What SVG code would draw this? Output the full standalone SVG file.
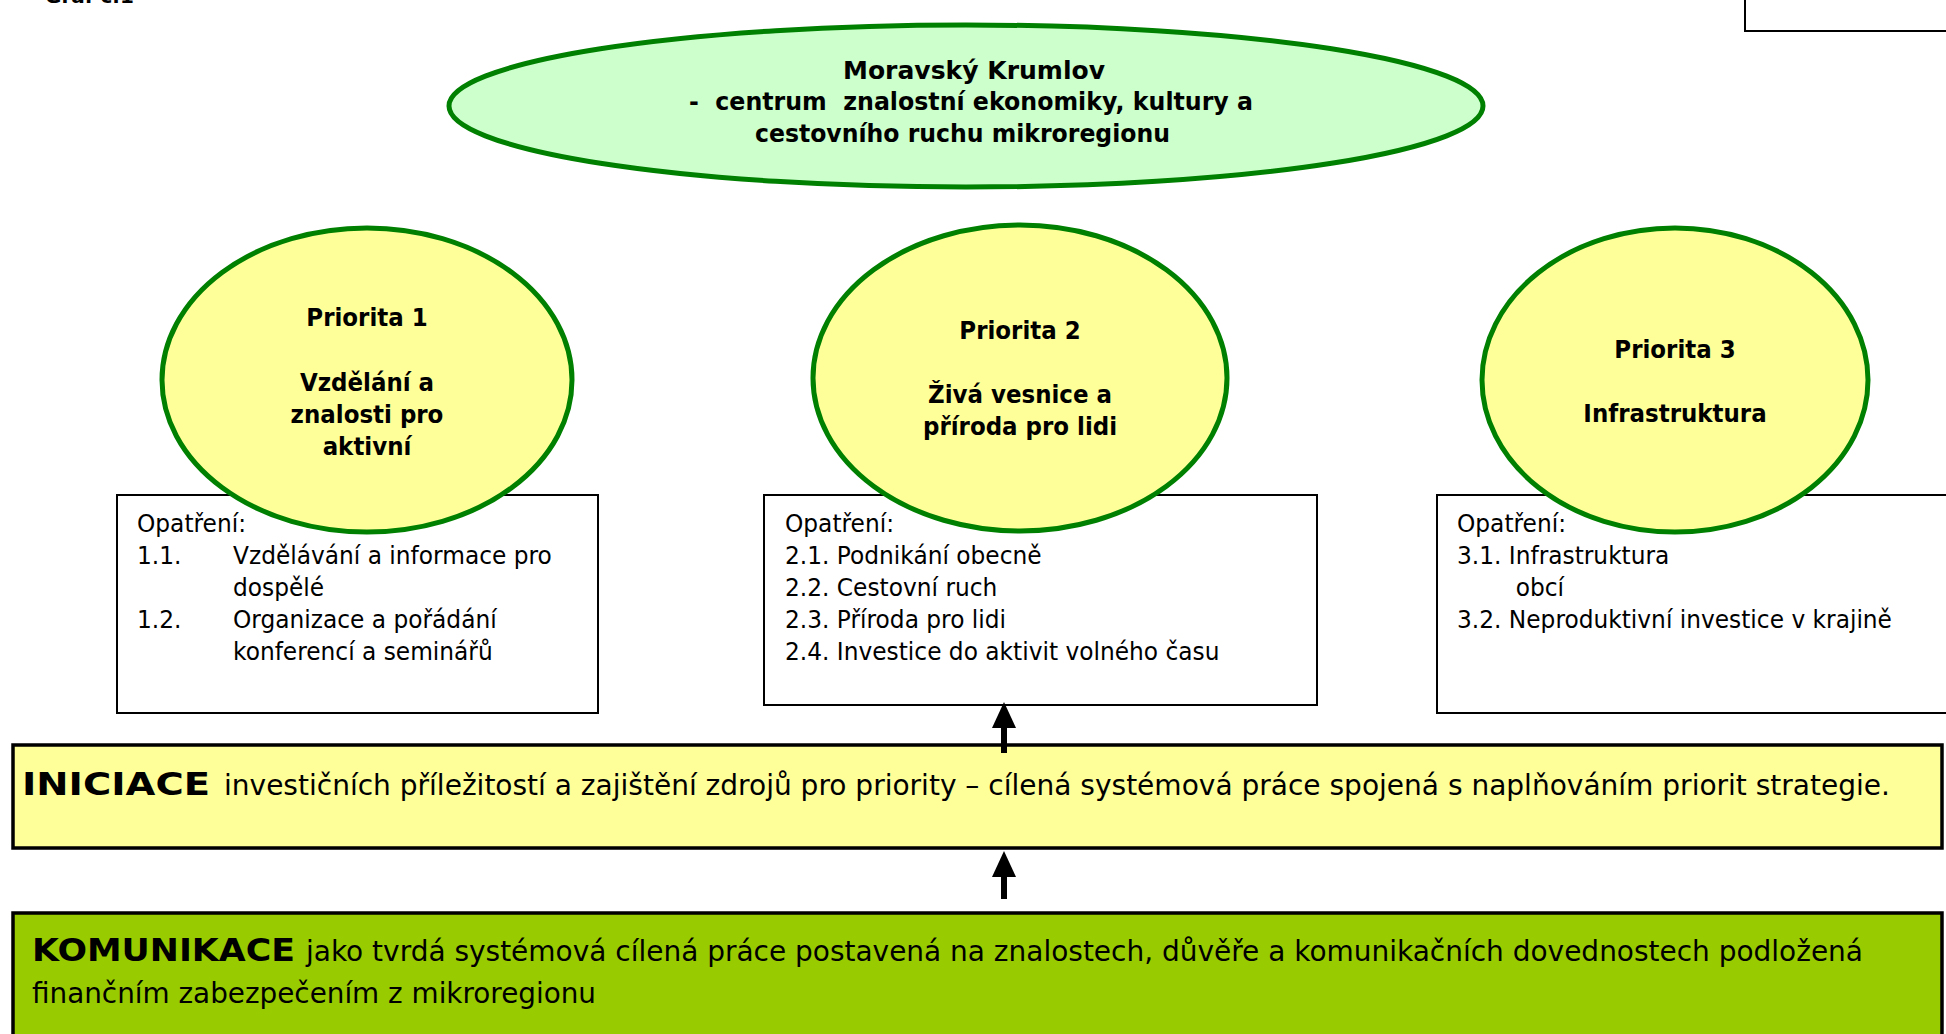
<svg xmlns="http://www.w3.org/2000/svg" width="1946" height="1034" viewBox="0 0 1946 1034">
<defs>
<style>
.bg{fill:#ffffff}
.ell{stroke:#008000;stroke-width:5}
.top{fill:#CCFFCC}
.prio{fill:#FFFF99}
.box{fill:#ffffff;stroke:#000000;stroke-width:2}
.band{stroke:#000000;stroke-width:3.5}
.yellow{fill:#FFFF99}
.green{fill:#99CC00}
text{font-family:"DejaVu Sans","Liberation Sans",sans-serif;fill:#000000;white-space:pre}
.tt{font-size:24px;font-weight:bold}
.pt{font-size:25.5px;font-weight:bold;text-anchor:middle}
.bt{font-size:25px}
.big{font-size:28px}
.bw{font-size:32px;font-weight:bold}
.conn{stroke:#000000;stroke-width:6;fill:none}
</style>
<marker id="arrow" viewBox="0 0 26 24" refX="0" refY="12" markerWidth="26" markerHeight="24" markerUnits="userSpaceOnUse" orient="auto">
<path d="M0,0 L26,12 L0,24 z" fill="#000000"/>
</marker>
</defs>
<rect class="bg" x="0" y="0" width="1946" height="1034"/>

<g id="caption">
<text x="45" y="3" style="font-size:20px;font-weight:bold">Graf č.1</text>
</g>
<g id="corner-box">
<rect x="1745" y="-5" width="210" height="36" fill="none" stroke="#000000" stroke-width="2"/>
</g>

<g id="goal">
<ellipse class="ell top" cx="966" cy="106" rx="517" ry="81"/>
<text class="tt" x="843" y="79" textLength="262" lengthAdjust="spacingAndGlyphs">Moravský Krumlov</text>
<text class="tt" x="689" y="110" textLength="564" lengthAdjust="spacingAndGlyphs">-  centrum  znalostní ekonomiky, kultury a</text>
<text class="tt" x="755" y="142" textLength="415" lengthAdjust="spacingAndGlyphs">cestovního ruchu mikroregionu</text>
</g>

<g id="box1">
<rect class="box" x="117" y="495" width="481" height="218"/>
</g>
<g id="box2">
<rect class="box" x="764" y="495" width="553" height="210"/>
</g>
<g id="box3">
<rect class="box" x="1437" y="495" width="520" height="218"/>
</g>

<g id="priorita1">
<ellipse class="ell prio" cx="367" cy="380" rx="205" ry="152"/>
<g transform="matrix(0.9 0 0 1 367 0)">
<text class="pt" x="0" y="326">Priorita 1</text>
<text class="pt" x="0" y="391">Vzdělání a</text>
<text class="pt" x="0" y="423">znalosti pro</text>
<text class="pt" x="0" y="455">aktivní</text>
</g>
</g>
<g id="priorita2">
<ellipse class="ell prio" cx="1020" cy="378" rx="207" ry="153"/>
<g transform="matrix(0.9 0 0 1 1020 0)">
<text class="pt" x="0" y="339">Priorita 2</text>
<text class="pt" x="0" y="403">Živá vesnice a</text>
<text class="pt" x="0" y="435">příroda pro lidi</text>
</g>
</g>
<g id="priorita3">
<ellipse class="ell prio" cx="1675" cy="380" rx="193" ry="152"/>
<g transform="matrix(0.9 0 0 1 1675 0)">
<text class="pt" x="0" y="358">Priorita 3</text>
<text class="pt" x="0" y="422">Infrastruktura</text>
</g>
</g>

<g id="box1-text" transform="matrix(0.932 0 0 1 137 0)">
<text class="bt" x="0" y="532">Opatření:</text>
<text class="bt" x="0" y="564">1.1.</text>
<text class="bt" x="103" y="564">Vzdělávání a informace pro</text>
<text class="bt" x="103" y="596">dospělé</text>
<text class="bt" x="0" y="628">1.2.</text>
<text class="bt" x="103" y="628">Organizace a pořádání</text>
<text class="bt" x="103" y="660">konferencí a seminářů</text>
</g>
<g id="box2-text" transform="matrix(0.932 0 0 1 785 0)">
<text class="bt" x="0" y="532">Opatření:</text>
<text class="bt" x="0" y="564">2.1. Podnikání obecně</text>
<text class="bt" x="0" y="596">2.2. Cestovní ruch</text>
<text class="bt" x="0" y="628">2.3. Příroda pro lidi</text>
<text class="bt" x="0" y="660">2.4. Investice do aktivit volného času</text>
</g>
<g id="box3-text" transform="matrix(0.932 0 0 1 1457 0)">
<text class="bt" x="0" y="532">Opatření:</text>
<text class="bt" x="0" y="564">3.1. Infrastruktura</text>
<text class="bt" x="63" y="596">obcí</text>
<text class="bt" x="0" y="628">3.2. Neproduktivní investice v krajině</text>
</g>

<g id="iniciace">
<rect class="band yellow" x="13" y="745" width="1929" height="103"/>
<text class="bw" x="22" y="795" textLength="188" lengthAdjust="spacingAndGlyphs">INICIACE</text>
<text class="big" x="224" y="795" textLength="1666" lengthAdjust="spacingAndGlyphs">investičních příležitostí a zajištění zdrojů pro priority – cílená systémová práce spojená s naplňováním priorit strategie.</text>
</g>

<g id="komunikace">
<rect class="band green" x="13" y="913" width="1929" height="140"/>
<text class="bw" x="32" y="961" textLength="263" lengthAdjust="spacingAndGlyphs">KOMUNIKACE</text>
<text class="big" x="306" y="961" textLength="1557" lengthAdjust="spacingAndGlyphs">jako tvrdá systémová cílená práce postavená na znalostech, důvěře a komunikačních dovednostech podložená</text>
<text class="big" x="32" y="1003" textLength="564" lengthAdjust="spacingAndGlyphs">finančním zabezpečením z mikroregionu</text>
</g>

<g id="connectors">
<line class="conn" x1="1004" y1="753" x2="1004" y2="728" marker-end="url(#arrow)"/>
<line class="conn" x1="1004" y1="899" x2="1004" y2="877" marker-end="url(#arrow)"/>
</g>
</svg>
